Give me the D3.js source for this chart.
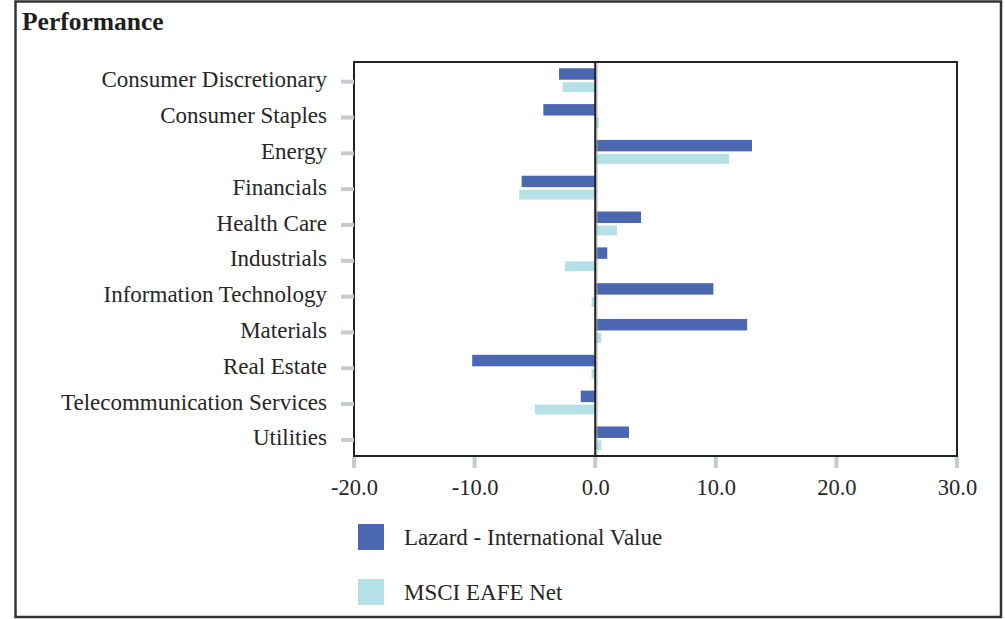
<!DOCTYPE html>
<html>
<head>
<meta charset="utf-8">
<script src="https://cdn.jsdelivr.net/npm/d3@7"></script>
<style>
  html, body { margin: 0; padding: 0; background: #fff; }
  svg { display: block; }
  text { font-family: "Liberation Serif", "Times New Roman", serif; fill: #262626; }
</style>
</head>
<body>
<svg id="chart" width="1005" height="619"></svg>
<script>
// ---- data ----
const categories = [
  "Consumer Discretionary", "Consumer Staples", "Energy", "Financials",
  "Health Care", "Industrials", "Information Technology", "Materials",
  "Real Estate", "Telecommunication Services", "Utilities"
];
const seriesNames = ["Lazard - International Value", "MSCI EAFE Net"];
const lazardValues = [-3.0, -4.3, 13.0, -6.1, 3.8, 1.0, 9.8, 12.6, -10.2, -1.2, 2.8];
const msciValues   = [-2.7,  0.3, 11.1, -6.3, 1.8, -2.5, -0.3, 0.5, -0.3, -5.0, 0.5];
const xTicks = [-20, -10, 0, 10, 20, 30];
const seriesColors = ["#4a67b0", "#b4e0e6"];
const title = "Performance";

// ---- layout ----
const svg = d3.select("#chart");
const plot = { left: 354, top: 62, right: 957, bottom: 456 };

const x = d3.scaleLinear().domain([-20, 30]).range([plot.left, plot.right]);
const y = d3.scaleBand().domain(categories).range([plot.top, plot.bottom]).padding(0);
const bw = y.bandwidth();

// outer frame
svg.append("rect")
  .attr("x", 15.5).attr("y", 1.5).attr("width", 985.5).attr("height", 615.5)
  .attr("fill", "none").attr("stroke", "#333").attr("stroke-width", 2.5);

// title
svg.append("text")
  .attr("x", 22).attr("y", 30)
  .attr("font-size", 25.5).attr("font-weight", "bold")
  .style("fill", "#1e1e1e")
  .text(title);

// bars
const rows = categories.map((c, i) => ({ c, a: lazardValues[i], b: msciValues[i] }));

svg.append("g").selectAll("rect").data(rows).join("rect")
  .attr("x", d => x(Math.min(0, d.a)))
  .attr("width", d => Math.abs(x(d.a) - x(0)))
  .attr("y", d => y(d.c) + bw * 0.175)
  .attr("height", bw * 0.32)
  .attr("fill", seriesColors[0]);

svg.append("g").selectAll("rect").data(rows).join("rect")
  .attr("x", d => x(Math.min(0, d.b)))
  .attr("width", d => Math.abs(x(d.b) - x(0)))
  .attr("y", d => y(d.c) + bw * 0.565)
  .attr("height", bw * 0.275)
  .attr("fill", seriesColors[1]);

// zero line
svg.append("line")
  .attr("x1", x(0)).attr("x2", x(0))
  .attr("y1", plot.top).attr("y2", plot.bottom)
  .attr("stroke", "#222").attr("stroke-width", 2);
svg.append("line")
  .attr("x1", x(0) + 1.7).attr("x2", x(0) + 1.7)
  .attr("y1", plot.top).attr("y2", plot.bottom)
  .attr("stroke", "#999").attr("stroke-width", 1);

// plot frame
svg.append("rect")
  .attr("x", plot.left).attr("y", plot.top)
  .attr("width", plot.right - plot.left).attr("height", plot.bottom - plot.top)
  .attr("fill", "none").attr("stroke", "#222").attr("stroke-width", 2);

// y axis (category)
const yAxis = d3.axisLeft(y).tickSize(0).tickPadding(0);
const gy = svg.append("g").attr("transform", `translate(${plot.left - 27},0)`).call(yAxis);
gy.select(".domain").remove();
gy.selectAll("text")
  .attr("font-size", 23)
  .attr("font-family", "Liberation Serif, serif")
  .style("fill", "#262626")
  .attr("dy", "0.32em")
  .attr("x", 0);
// y tick marks (gray)
svg.append("g").selectAll("line").data(categories).join("line")
  .attr("x1", plot.left - 13).attr("x2", plot.left)
  .attr("y1", d => y(d) + bw / 2 + 1.8).attr("y2", d => y(d) + bw / 2 + 1.8)
  .attr("stroke", "#c7cacf").attr("stroke-width", 4);

// x axis
const fmt = d => d3.format(".1f")(d).replace("\u2212", "-");
const xAxis = d3.axisBottom(x).tickValues(xTicks).tickFormat(fmt).tickSize(0).tickPadding(0);
const gx = svg.append("g").attr("transform", `translate(0,${plot.bottom})`).call(xAxis);
gx.select(".domain").remove();
gx.selectAll("text")
  .attr("font-size", 22.5)
  .attr("font-family", "Liberation Serif, serif")
  .style("fill", "#262626")
  .attr("y", 39).attr("dy", 0);
svg.append("g").selectAll("line").data(xTicks).join("line")
  .attr("x1", d => x(d)).attr("x2", d => x(d))
  .attr("y1", plot.bottom + 1).attr("y2", plot.bottom + 12)
  .attr("stroke", "#c7cacf").attr("stroke-width", 4);

// legend
const legend = svg.append("g").selectAll("g").data(seriesNames).join("g")
  .attr("transform", (d, i) => `translate(358,${524 + i * 55})`);
legend.append("rect")
  .attr("width", 26).attr("height", 26)
  .attr("fill", (d, i) => seriesColors[i]);
legend.append("text")
  .attr("x", 46).attr("y", 13).attr("dy", "0.35em")
  .attr("font-size", 23)
  .text(d => d);
</script>
</body>
</html>
